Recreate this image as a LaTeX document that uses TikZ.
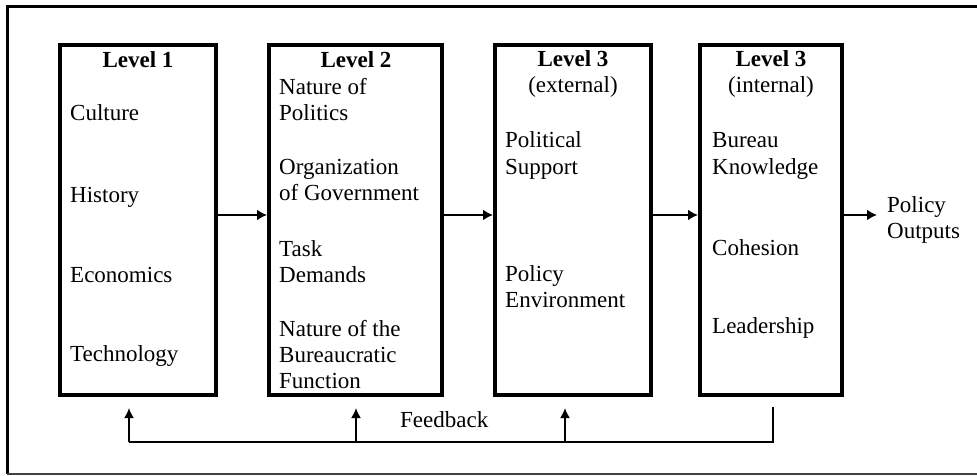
\documentclass[tikz,border=0pt]{standalone}
\usepackage{fontspec}
\setmainfont{Liberation Serif}
\usetikzlibrary{arrows.meta, positioning}

\tikzset{
  level/.style={draw, line width=4pt, minimum width=#1, minimum height=350pt, inner sep=0pt},
  item/.style={anchor=base west, align=left, inner sep=0pt, font=\fontsize{23}{26}\selectfont},
  head/.style={anchor=base, align=center, inner sep=0pt, font=\fontsize{23}{26}\selectfont},
  flow/.style={-{Latex[length=10pt, width=11pt]}, line width=2.2pt},
  back/.style={line width=1.8pt}
}

\begin{document}
\begin{tikzpicture}[x=1pt, y=-1pt]
\useasboundingbox (0,0) rectangle (977,476);
% frame
\draw[line width=3pt] (990,7) -- (7,7) -- (7,474);
\draw[line width=1.5pt, black!75] (7,474) -- (990,474);

% boxes
\node[level=156] (lev1) at (138,220) {};
\node[level=173] (lev2) at (355.5,220) {};
\node[level=156] (lev3) at (573,220) {};
\node[level=142] (lev4) at (771,220) {};

% headings (base = last line)
\node[head] (h1) at (138,68) {\textbf{Level 1}};
\node[head] (h2) at (356,68) {\textbf{Level 2}};
\node[head] (h3) at (573,93) {\textbf{Level 3}\\(external)};
\node[head] (h4) at (771,93) {\textbf{Level 3}\\(internal)};

% factors
\foreach \y/\t [count=\i] in {121/Culture, 202/History, 282/Economics, 361/Technology}
    \node[item] (fa\i) at (70,\y) {\t};
\foreach \y/\t [count=\i] in {121/{Nature of\\Politics}, 200/{Organization\\of Government},
    282/{Task\\Demands}, 388/{Nature of the\\Bureaucratic\\Function}}
    \node[item] (fb\i) at (279,\y) {\t};
\foreach \y/\t [count=\i] in {174/{Political\\Support}, 307/{Policy\\Environment}}
    \node[item] (fc\i) at (505,\y) {\t};
\foreach \y/\t [count=\i] in {174/{Bureau\\Knowledge}, 255/Cohesion, 333/Leadership}
    \node[item] (fd\i) at (712,\y) {\t};

% flow
\draw[flow] ([yshift=5pt]lev1.east) -- ([yshift=5pt]lev2.west);
\draw[flow] ([yshift=5pt]lev2.east) -- ([yshift=5pt]lev3.west);
\draw[flow] ([yshift=5pt]lev3.east) -- ([yshift=5pt]lev4.west);
\coordinate (po) at (877,215);
\draw[flow] ([yshift=5pt]lev4.east) -- (po);
\node[item] (outputs) at (887,238) {Policy\\Outputs};

% feedback
\coordinate (top4) at (773,407);
\foreach \x [count=\i] in {129,356,565,773}
    \coordinate (bot\i) at (\x,442);
\draw[back] (top4) -- (bot4) -- (bot1);
\foreach \x [count=\i] in {129,356,565} {
    \coordinate (tip\i) at (\x,408);
    \draw[back, -{Latex[length=10pt, width=10pt]}] (bot\i) -- (tip\i);
}
\node[item] (fbtext) at (400,427) {Feedback};
\end{tikzpicture}
\end{document}
